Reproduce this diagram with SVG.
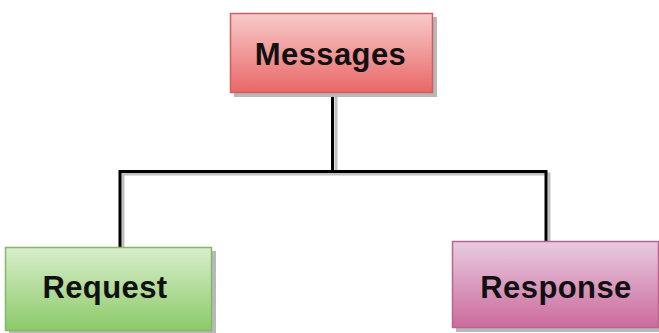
<svg xmlns="http://www.w3.org/2000/svg" width="659" height="333" viewBox="0 0 659 333">
<defs>
<linearGradient id="gRed" x1="0" y1="0" x2="0" y2="1"><stop offset="0" stop-color="#f8caca"/><stop offset="1" stop-color="#e96767"/></linearGradient>
<linearGradient id="gGreen" x1="0" y1="0" x2="0" y2="1"><stop offset="0" stop-color="#d8edcb"/><stop offset="1" stop-color="#8ccb69"/></linearGradient>
<linearGradient id="gPink" x1="0" y1="0" x2="0" y2="1"><stop offset="0" stop-color="#e8cbe0"/><stop offset="1" stop-color="#cc6a9d"/></linearGradient>
</defs>
<style>
.shadow{fill:#b8b8b8}
.lbl{font-family:"Liberation Sans",Arial,sans-serif;font-weight:bold;font-size:31px;fill:#111;text-anchor:middle;letter-spacing:0.4px}
.conn{fill:none;stroke:#000;stroke-width:3}
.connsh{fill:none;stroke:#c0c0c0;stroke-width:3}
</style>
<rect width="659" height="333" fill="#fff"/>
<g id="connectors">
<path class="connsh" d="M336 97 V174 M123 250 V174 H549 V244"/>
<path class="conn" d="M332.5 94 V171.5 M120 247 V171.5 H546 V241"/>
</g>
<g id="messages">
<rect class="shadow" x="234" y="17" width="203" height="80"/>
<rect x="230.5" y="13.5" width="202" height="79" fill="url(#gRed)" stroke="#cc6060" stroke-width="1.5"/>
<text class="lbl" x="330.5" y="65">Messages</text>
</g>
<g id="request">
<rect class="shadow" x="9" y="251" width="207" height="85"/>
<rect x="5.5" y="247.5" width="206" height="83" fill="url(#gGreen)" stroke="#84b868" stroke-width="1.5"/>
<text class="lbl" x="105" y="298">Request</text>
</g>
<g id="response">
<rect class="shadow" x="456" y="245" width="207" height="87"/>
<rect x="452.5" y="241.5" width="206" height="86" fill="url(#gPink)" stroke="#b8648f" stroke-width="1.5"/>
<text class="lbl" x="556" y="298">Response</text>
</g>
</svg>
